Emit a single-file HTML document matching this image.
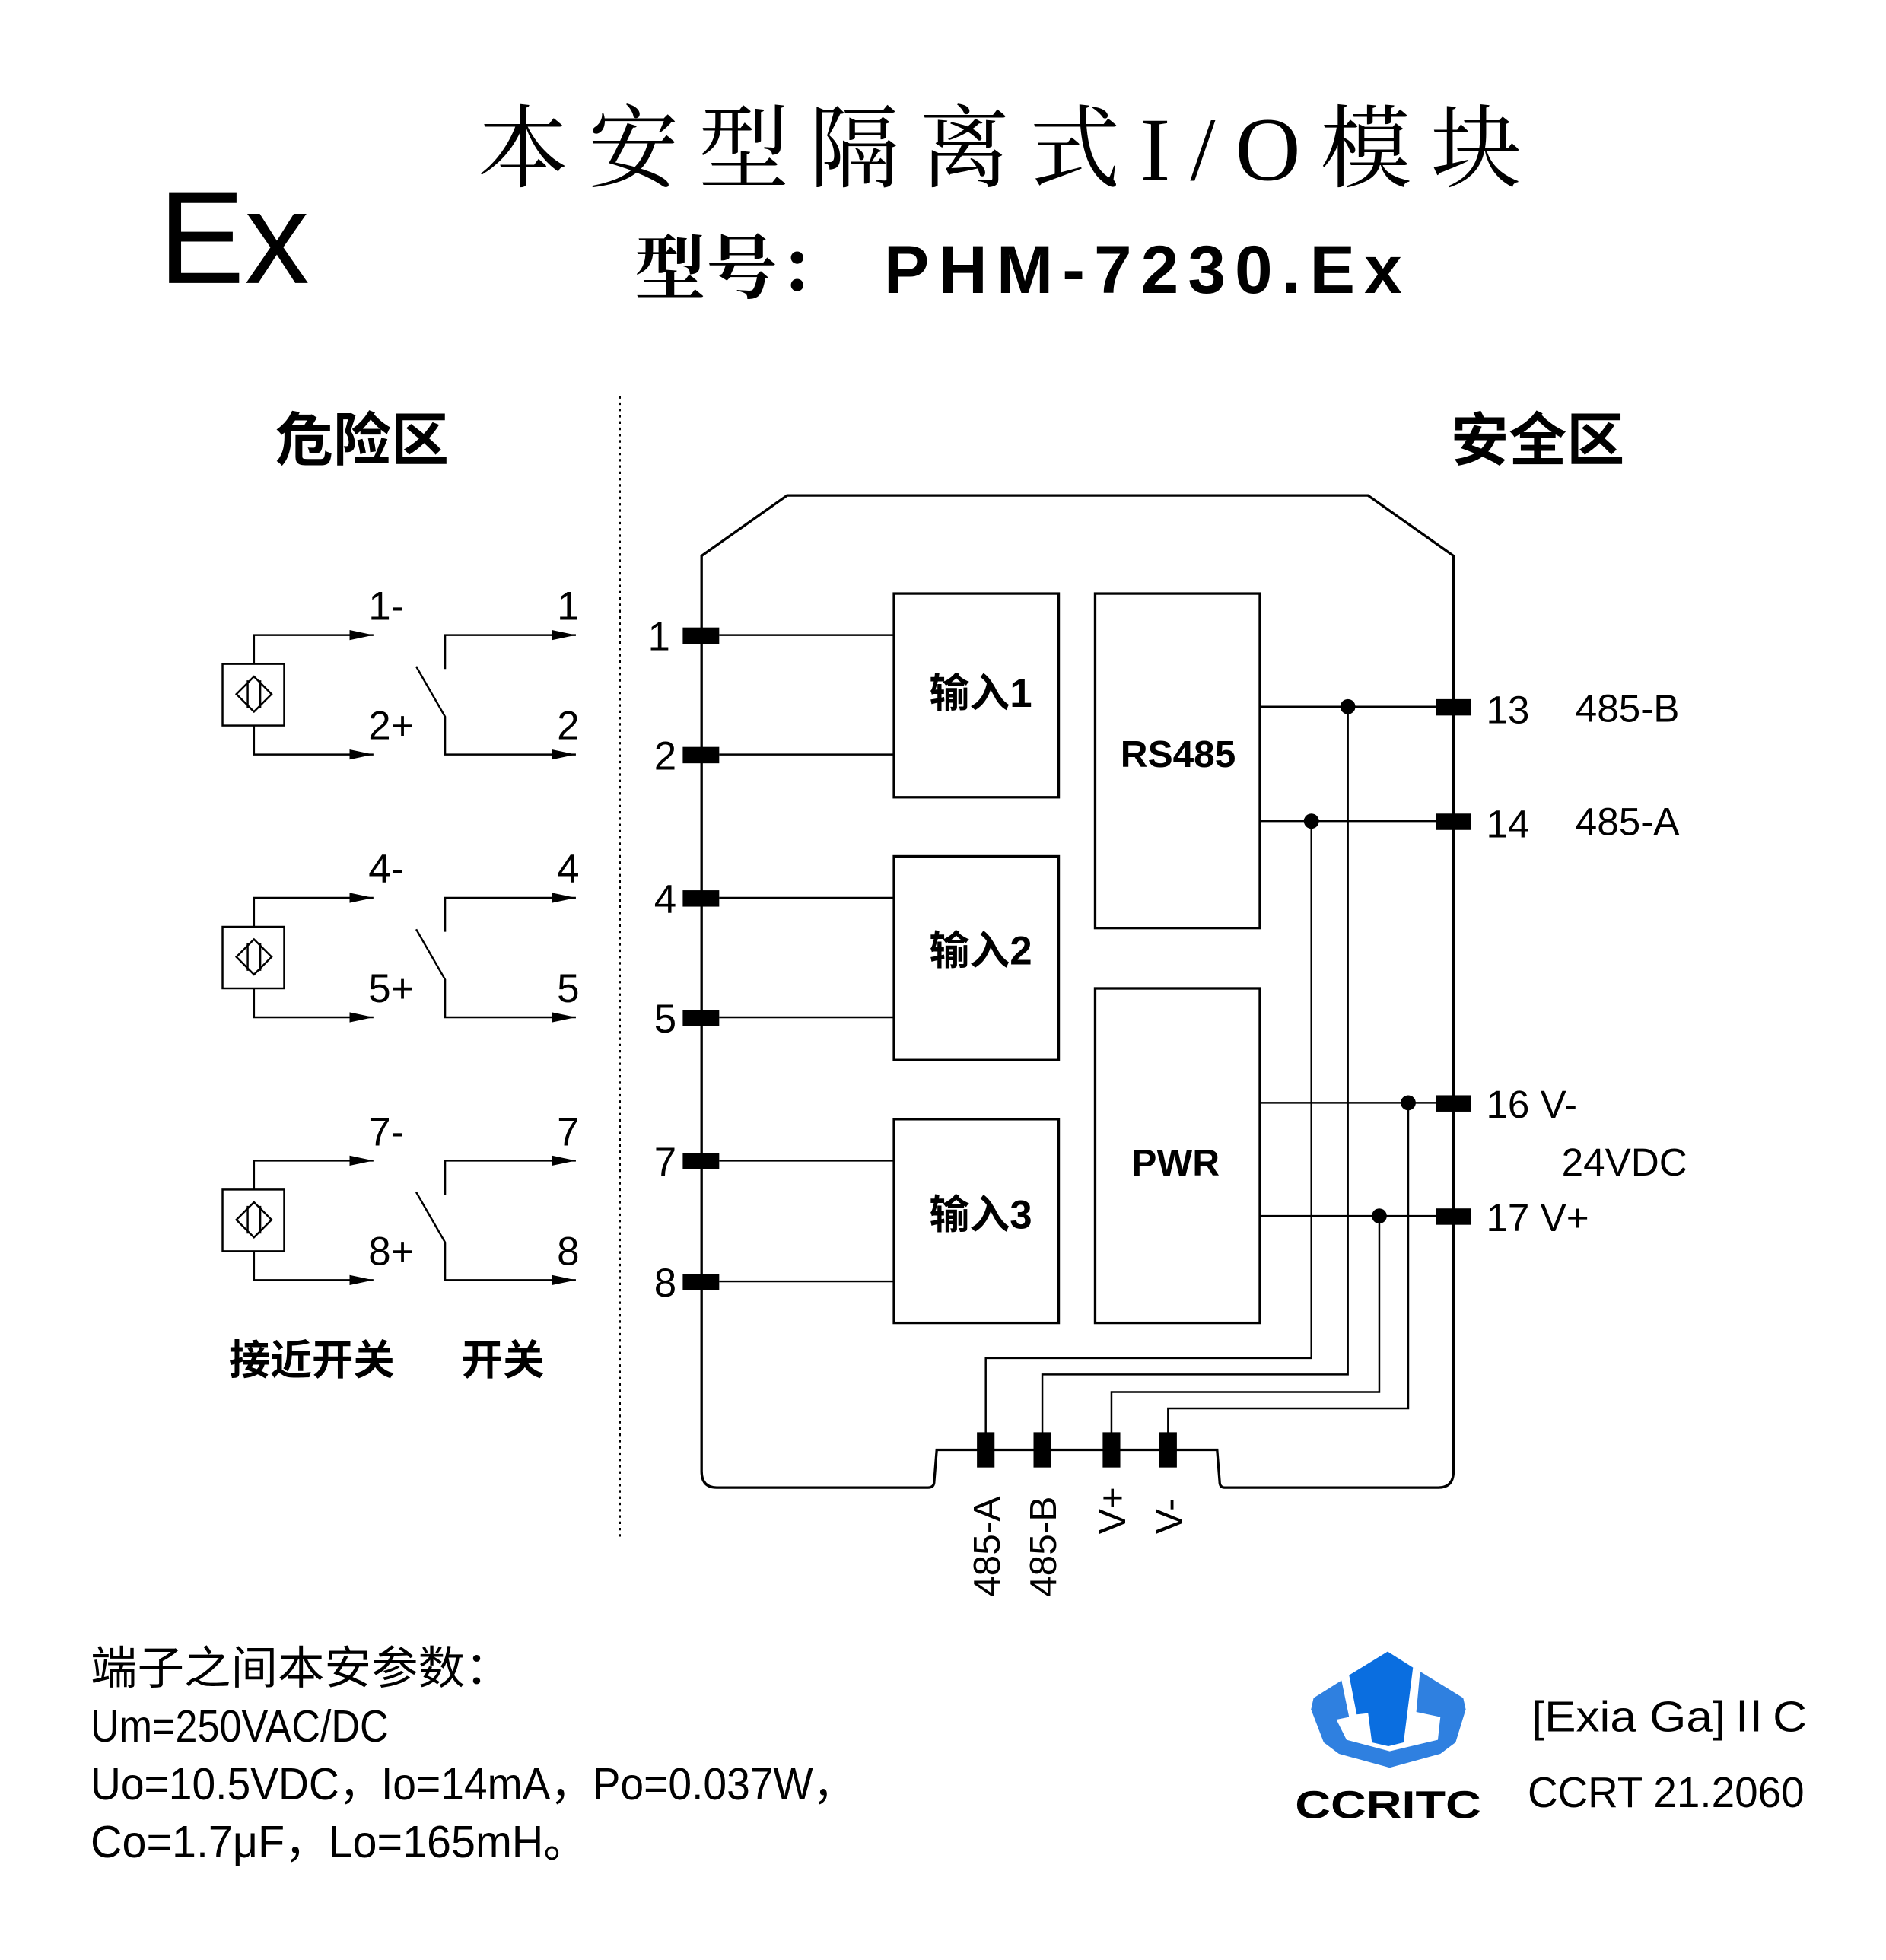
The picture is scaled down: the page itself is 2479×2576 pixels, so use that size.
<!DOCTYPE html>
<html><head><meta charset="utf-8"><style>
html,body{margin:0;padding:0;background:#fff}
svg{display:block}
text{font-family:"Liberation Sans","Noto Sans CJK SC",sans-serif;fill:#000}
.s{font-family:"Liberation Serif","Noto Serif CJK SC",serif}
.b{font-weight:bold}
</style></head><body>
<svg width="2479" height="2576" viewBox="0 0 1500 1558.7" xmlns="http://www.w3.org/2000/svg">
<defs>
<marker id="ar" markerWidth="20" markerHeight="10" refX="19" refY="5" orient="auto" markerUnits="userSpaceOnUse"><path d="M0,1 L19,5 L0,9 Z" fill="#000"/></marker>
</defs>
<rect width="1500" height="1559" fill="#fff"/>
<text x="126" y="225" font-size="104" textLength="120" lengthAdjust="spacingAndGlyphs">Ex</text>
<text x="380" y="143" font-size="72" class="s" textLength="830" lengthAdjust="spacing">本安型隔离式I/O模块</text>
<text x="505" y="233" font-size="56" class="s b" textLength="170" lengthAdjust="spacing">型号：</text>
<text x="703" y="233" font-size="54" class="b" textLength="412" lengthAdjust="spacing">PHM-7230.Ex</text>
<text x="288" y="366" font-size="46" class="b" text-anchor="middle">危险区</text>
<text x="1223" y="366" font-size="46" class="b" text-anchor="middle">安全区</text>
<line x1="493" y1="315" x2="493" y2="1222" stroke="#000" stroke-width="1.5" stroke-dasharray="2,3"/>
<g fill="none" stroke="#000" stroke-width="2">
<path d="M558,1170 L558,442 L626,394 L1088,394 L1156,442 L1156,1170 Q1156,1183 1144,1183 L974,1183 Q970,1183 970,1178 L968,1153 L745,1153 L743,1178 Q743,1183 738,1183 L570,1183 Q558,1183 558,1170"/>
<rect x="711" y="472" width="131" height="162"/>
<rect x="711" y="681" width="131" height="162"/>
<rect x="711" y="890" width="131" height="162"/>
<rect x="871" y="472" width="131" height="266"/>
<rect x="871" y="786" width="131" height="266"/>
</g>
<g stroke="#000" stroke-width="1.5" fill="none">
<path d="M572,505H711M572,600H711M572,714H711M572,809H711M572,923H711M572,1019H711"/>
<path d="M1002,562H1142M1002,653H1142M1002,877H1142M1002,967H1142"/>
<path d="M1043,653V1080H784V1140M1072,562V1093H829V1140M1097,967V1107H884V1140M1120,877V1120H929V1140"/>
</g>
<g fill="#000">
<rect x="543" y="499" width="29" height="13"/><rect x="543" y="594" width="29" height="13"/>
<rect x="543" y="708" width="29" height="13"/><rect x="543" y="803" width="29" height="13"/>
<rect x="543" y="917" width="29" height="13"/><rect x="543" y="1013" width="29" height="13"/>
<rect x="1142" y="556" width="28" height="13"/><rect x="1142" y="647" width="28" height="13"/>
<rect x="1142" y="871" width="28" height="13"/><rect x="1142" y="961" width="28" height="13"/>
<rect x="777" y="1139" width="14" height="28"/><rect x="822" y="1139" width="14" height="28"/>
<rect x="877" y="1139" width="14" height="28"/><rect x="922" y="1139" width="14" height="28"/>
<circle cx="1072" cy="562" r="6"/><circle cx="1043" cy="653" r="6"/>
<circle cx="1120" cy="877" r="6"/><circle cx="1097" cy="967" r="6"/>
</g>
<g font-size="32" text-anchor="end">
<text x="533" y="517">1</text><text x="538" y="612">2</text><text x="538" y="726">4</text>
<text x="538" y="821">5</text><text x="538" y="935">7</text><text x="538" y="1031">8</text>
</g>
<g font-size="32" text-anchor="middle" class="b">
<text x="780" y="562">输入1</text><text x="780" y="767">输入2</text><text x="780" y="977">输入3</text>
<text x="937" y="610" font-size="30">RS485</text><text x="935" y="935" font-size="30">PWR</text>
</g>
<g font-size="31">
<text x="1182" y="575">13</text><text x="1253" y="574">485-B</text>
<text x="1182" y="666">14</text><text x="1253" y="664">485-A</text>
<text x="1182" y="889">16 V-</text><text x="1242" y="935">24VDC</text>
<text x="1182" y="979">17 V+</text>
</g>
<g font-size="30">
<text transform="translate(795,1270) rotate(-90)">485-A</text>
<text transform="translate(840,1270) rotate(-90)">485-B</text>
<text transform="translate(895,1220) rotate(-90)">V+</text>
<text transform="translate(940,1220) rotate(-90)">V-</text>
</g>
<g id="g1">
<rect x="177" y="528" width="49" height="49" fill="none" stroke="#000" stroke-width="1.5"/>
<path d="M202,538 L216,552 L202,566 L188,552 Z M197,541V563M207,541V563" fill="none" stroke="#000" stroke-width="1.5"/>
<path d="M202,528V505M202,577V600M354,532V505M331,530L354,570V600" fill="none" stroke="#000" stroke-width="1.5"/>
<line x1="201" y1="505" x2="297" y2="505" stroke="#000" stroke-width="1.5" marker-end="url(#ar)"/>
<line x1="201" y1="600" x2="297" y2="600" stroke="#000" stroke-width="1.5" marker-end="url(#ar)"/>
<line x1="353" y1="505" x2="458" y2="505" stroke="#000" stroke-width="1.5" marker-end="url(#ar)"/>
<line x1="353" y1="600" x2="458" y2="600" stroke="#000" stroke-width="1.5" marker-end="url(#ar)"/>
</g>
<use href="#g1" y="209"/>
<use href="#g1" y="418"/>
<g font-size="32">
<text x="293" y="493">1-</text><text x="443" y="493">1</text>
<text x="293" y="588">2+</text><text x="443" y="588">2</text>
<text x="293" y="702">4-</text><text x="443" y="702">4</text>
<text x="293" y="797">5+</text><text x="443" y="797">5</text>
<text x="293" y="911">7-</text><text x="443" y="911">7</text>
<text x="293" y="1006">8+</text><text x="443" y="1006">8</text>
</g>
<text x="248" y="1093" font-size="33" text-anchor="middle" class="b">接近开关</text>
<text x="400" y="1093" font-size="33" text-anchor="middle" class="b">开关</text>
<g font-size="36">
<text x="72" y="1339" textLength="335" lengthAdjust="spacingAndGlyphs">端子之间本安参数：</text>
<text x="72" y="1385" textLength="237" lengthAdjust="spacingAndGlyphs">Um=250VAC/DC</text>
<text x="72" y="1431" textLength="608" lengthAdjust="spacingAndGlyphs">Uo=10.5VDC，Io=14mA，Po=0.037W，</text>
<text x="72" y="1477" textLength="395" lengthAdjust="spacingAndGlyphs">Co=1.7μF，Lo=165mH。</text>
</g>
<g transform="translate(1028.6,1300.9) scale(0.2017)">
<polygon points="372,62 670,245 680,290 640,420 580,465 380,520 180,465 120,420 70,290 80,245" fill="#2f80e0"/>
<polygon points="190,175 220,320 170,330 210,410 380,455 570,410 580,320 485,300 500,140 372,62" fill="#fff"/>
<polygon points="220,155 372,62 472,125 435,420 375,435 310,420 295,305 250,310" fill="#0a6ee0"/>
</g>
<text x="1030" y="1446" font-size="31" class="b" textLength="148" lengthAdjust="spacingAndGlyphs">CCRITC</text>
<text x="1218" y="1377" font-size="34" textLength="219" lengthAdjust="spacingAndGlyphs">[Exia Ga]ⅡC</text>
<text x="1215" y="1437" font-size="34" textLength="220" lengthAdjust="spacingAndGlyphs">CCRT 21.2060</text>
</svg>
</body></html>
